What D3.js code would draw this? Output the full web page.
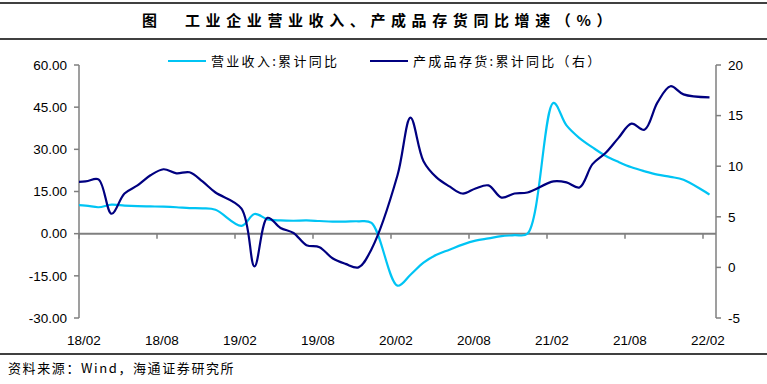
<!DOCTYPE html>
<html>
<head>
<meta charset="utf-8">
<script src="https://d3js.org/d3.v7.min.js"></script>
<style>
  body { margin: 0; background: #fff; }
  svg { display: block; }
  .cn { font-family: "Noto Sans CJK SC", sans-serif; }
  .num { font-family: "Liberation Sans", Arial, sans-serif; }
</style>
</head>
<body>
<svg width="767" height="384"></svg>
<script>
// months (no January: cumulative data start with Jan-Feb); 17/12 only feeds the clipped left edge
var months = ["17/12",
  "18/02","18/03","18/04","18/05","18/06","18/07","18/08","18/09","18/10","18/11","18/12",
  "19/02","19/03","19/04","19/05","19/06","19/07","19/08","19/09","19/10","19/11","19/12",
  "20/02","20/03","20/04","20/05","20/06","20/07","20/08","20/09","20/10","20/11","20/12",
  "21/02","21/03","21/04","21/05","21/06","21/07","21/08","21/09","21/10","21/11","21/12",
  "22/02"];

// 营业收入:累计同比 (left axis)
var revenue = [10.3,
  10.0, 9.4, 10.3, 10.0, 9.8, 9.7, 9.6, 9.4, 9.1, 9.0, 8.5,
  2.8, 7.0, 5.1, 4.7, 4.6, 4.7, 4.5, 4.3, 4.3, 4.4, 3.8,
  -18.5, -14.6, -10.3, -7.5, -5.7, -3.9, -2.5, -1.7, -0.9, -0.5, 0.0,
  46.5, 38.5, 34.0, 30.7, 27.7, 25.5, 23.6, 22.2, 21.0, 20.2, 19.2,
  13.9];

// 产成品存货:累计同比 (right axis)
var inventory = [8.4,
  8.5, 8.7, 5.3, 7.3, 8.1, 9.1, 9.7, 9.3, 9.4, 8.5, 7.4,
  5.8, 0.1, 4.9, 3.9, 3.4, 2.2, 2.0, 0.9, 0.35, 0.0, 1.8,
  9.1, 14.8, 10.5, 8.9, 8.0, 7.3, 7.8, 8.1, 6.9, 7.3, 7.4,
  8.5, 8.4, 7.9, 10.2, 11.3, 12.8, 14.2, 13.6, 16.3, 17.9, 17.1,
  16.8];

var tickMonths = ["18/02","18/08","19/02","19/08","20/02","20/08","21/02","21/08","22/02"];
var leftTicks = [60, 45, 30, 15, 0, -15, -30];
var rightTicks = [20, 15, 10, 5, 0, -5];

var seriesNames = ["营业收入:累计同比", "产成品存货:累计同比（右）"];
var colors = ["#00c4f4", "#000080"];

var svg = d3.select("svg"),
    width = +svg.attr("width"),
    height = +svg.attr("height");

var plot = {left: 79, right: 716, top: 65, bottom: 318};

function monthIndex(m) {
  var p = m.split("/");
  return (+p[0] - 18) * 12 + (+p[1] - 2);
}

var x = d3.scaleLinear().domain([-0.5, 48.5]).range([plot.left, plot.right]);
var yL = d3.scaleLinear().domain([-30, 60]).range([plot.bottom, plot.top]);
var yR = d3.scaleLinear().domain([-5, 20]).range([plot.bottom, plot.top]);

// frame lines
[3, 39, 354].forEach(function (yy) {
  svg.append("line").attr("x1", 0).attr("x2", width).attr("y1", yy).attr("y2", yy)
    .attr("stroke", "#000").attr("stroke-width", 1.5);
});

// title
svg.append("text").attr("class", "cn")
  .attr("x", 142).attr("y", 26)
  .attr("font-size", 15).attr("font-weight", "bold")
  .text("图");
svg.append("text").attr("class", "cn")
  .attr("x", 185).attr("y", 26)
  .attr("font-size", 15).attr("font-weight", "bold")
  .attr("letter-spacing", "5.6px")
  .text("工业企业营业收入、产成品存货同比增速（%）");

// source
svg.append("text").attr("class", "cn")
  .attr("x", 8).attr("y", 373)
  .attr("font-size", 13).attr("letter-spacing", "1.6px")
  .text("资料来源：Wind，海通证券研究所");

var axisColor = "#7f7f7f";

// left axis
svg.append("line").attr("x1", plot.left).attr("x2", plot.left)
  .attr("y1", plot.top).attr("y2", plot.bottom)
  .attr("stroke", axisColor).attr("stroke-width", 1.5);
var lt = svg.append("g").selectAll("g").data(leftTicks).enter().append("g")
  .attr("transform", function (d) { return "translate(0," + yL(d) + ")"; });
lt.append("line").attr("x1", plot.left - 5).attr("x2", plot.left)
  .attr("stroke", axisColor).attr("stroke-width", 1.5);
lt.append("text").attr("class", "num")
  .attr("x", 67).attr("dy", "0.35em")
  .attr("text-anchor", "end").attr("font-size", 13.5).attr("fill", "#000")
  .text(function (d) { return d.toFixed(2); });

// right axis
svg.append("line").attr("x1", plot.right).attr("x2", plot.right)
  .attr("y1", plot.top).attr("y2", plot.bottom)
  .attr("stroke", axisColor).attr("stroke-width", 1.5);
var rt = svg.append("g").selectAll("g").data(rightTicks).enter().append("g")
  .attr("transform", function (d) { return "translate(0," + yR(d) + ")"; });
rt.append("line").attr("x1", plot.right).attr("x2", plot.right + 5)
  .attr("stroke", axisColor).attr("stroke-width", 1.5);
rt.append("text").attr("class", "num")
  .attr("x", 728).attr("dy", "0.35em")
  .attr("font-size", 13.5).attr("fill", "#000")
  .text(function (d) { return d; });

// category axis on zero line
svg.append("line").attr("x1", plot.left).attr("x2", plot.right)
  .attr("y1", yL(0)).attr("y2", yL(0))
  .attr("stroke", axisColor).attr("stroke-width", 2);
var xt = svg.append("g").selectAll("g").data(tickMonths).enter().append("g");
xt.append("line")
  .attr("x1", function (d) { return x(monthIndex(d) - 0.5); })
  .attr("x2", function (d) { return x(monthIndex(d) - 0.5); })
  .attr("y1", yL(0)).attr("y2", yL(0) + 5)
  .attr("stroke", axisColor).attr("stroke-width", 1.5);
xt.append("text").attr("class", "num")
  .attr("x", function (d) { return x(monthIndex(d)) - 1.5; })
  .attr("y", 345)
  .attr("text-anchor", "middle").attr("font-size", 13.5)
  .text(function (d) { return d; });

// lines
svg.append("clipPath").attr("id", "plotclip").append("rect")
  .attr("x", plot.left).attr("y", 40)
  .attr("width", plot.right - plot.left).attr("height", 300);

var pts = months.map(function (m, i) {
  return {i: monthIndex(m), rev: revenue[i], inv: inventory[i]};
});

var revLine = d3.line()
  .curve(d3.curveCatmullRom.alpha(0.5))
  .x(function (d) { return x(d.i); })
  .y(function (d) { return yL(d.rev); });
var invLine = d3.line()
  .curve(d3.curveCatmullRom.alpha(0.5))
  .x(function (d) { return x(d.i); })
  .y(function (d) { return yR(d.inv); });

var lines = svg.append("g").attr("clip-path", "url(#plotclip)");
lines.append("path").datum(pts).attr("d", revLine)
  .attr("fill", "none").attr("stroke", colors[0]).attr("stroke-width", 2.2);
lines.append("path").datum(pts).attr("d", invLine)
  .attr("fill", "none").attr("stroke", colors[1]).attr("stroke-width", 2.2);

// legend
var legendPos = [{x: 168, tx: 211}, {x: 370, tx: 413}];
var legend = svg.append("g").selectAll("g").data(seriesNames).enter().append("g");
legend.append("line")
  .attr("x1", function (d, i) { return legendPos[i].x; })
  .attr("x2", function (d, i) { return legendPos[i].x + 38; })
  .attr("y1", 61).attr("y2", 61)
  .attr("stroke", function (d, i) { return colors[i]; })
  .attr("stroke-width", 2.2);
legend.append("text").attr("class", "cn")
  .attr("x", function (d, i) { return legendPos[i].tx; })
  .attr("y", 61).attr("dy", "0.35em")
  .attr("font-size", 13).attr("letter-spacing", "2.3px")
  .text(function (d) { return d; });
</script>
</body>
</html>
